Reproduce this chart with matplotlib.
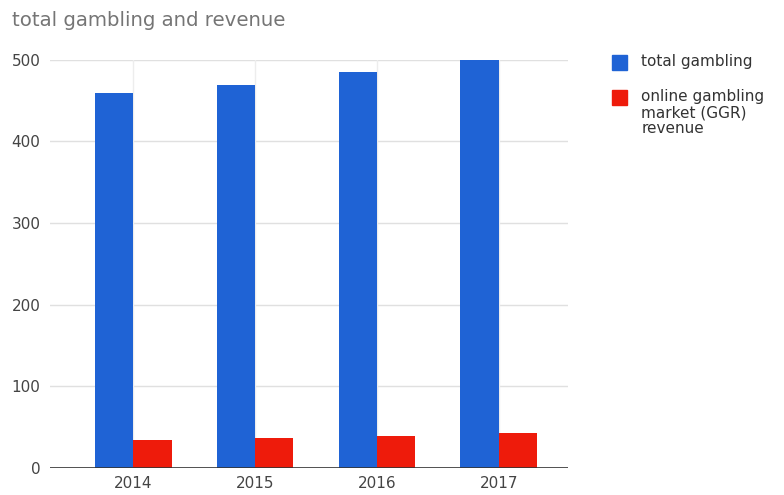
import numpy as np
import matplotlib.pyplot as plt
from matplotlib.patches import Rectangle

# dane
years = ['2014', '2015', '2016', '2017']
total_gambling = [460, 469, 485, 500]
online_ggr = [34, 37, 39, 43]
y_ticks = [0, 100, 200, 300, 400, 500]
series_names = ['total gambling', 'online gambling\nmarket (GGR)\nrevenue']

blue = '#1f63d5'
red = '#ee1b0b'

plt.rcParams['font.family'] = ['DejaVu Sans']

fig = plt.figure(figsize=(7.84, 4.95), dpi=100)
ax = fig.add_axes([0.064, 0.055, 0.661, 0.824])

x = np.arange(len(years))
w = 0.315
ax.bar(x - w / 2, total_gambling, w, color=blue, zorder=3)
ax.bar(x + w / 2, online_ggr, w, color=red, zorder=3)

ax.set_xlim(-0.68, 3.57)
ax.set_ylim(0, 500)
ax.set_yticks(y_ticks)
ax.set_xticks(x)
ax.set_xticklabels(years)

# siatka
for t in y_ticks[1:]:
    ax.axhline(t, color='#e0e0e0', lw=1, zorder=1)
for xi in x:
    ax.axvline(xi, color='#ededed', lw=1, zorder=1)
ax.axhline(0, color='#333333', lw=1.2, zorder=4)

for s in ax.spines.values():
    s.set_visible(False)
ax.tick_params(length=0, labelsize=11, colors='#444444')
ax.tick_params(axis='y', pad=7)
ax.tick_params(axis='x', pad=6)

fig.text(0.015, 0.958, 'total gambling and revenue', fontsize=14.2,
         color='#757575', va='center', ha='left')

# legenda
sq_w, sq_h = 15 / 784, 15 / 495
for i, (name, col) in enumerate(zip(series_names, [blue, red])):
    cy = 0.874 - i * 0.0707
    fig.add_artist(Rectangle((0.781, cy - sq_h / 2), sq_w, sq_h,
                             color=col, transform=fig.transFigure))
    fig.text(0.818, cy + 0.017, name, fontsize=11, color='#333333',
             va='top', ha='left', linespacing=1.1)

fig.savefig('out.png', dpi=100)
